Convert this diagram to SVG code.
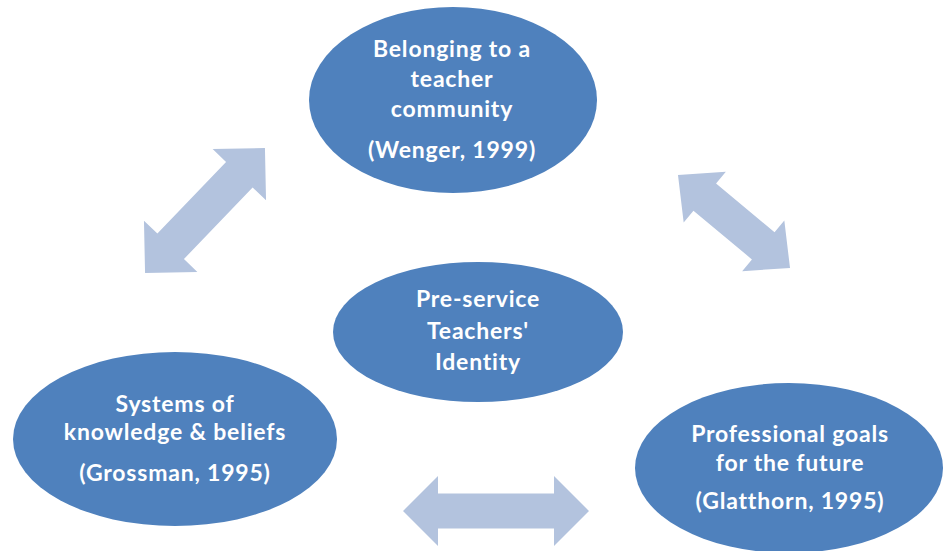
<svg xmlns="http://www.w3.org/2000/svg" width="944" height="551" viewBox="0 0 944 551">
<style>
.node{fill:#4F81BD;}
.lbl{fill:#FFFFFF;font-family:Lato,"Liberation Sans",sans-serif;font-weight:bold;font-size:23px;letter-spacing:0.8px;text-anchor:middle;}
.arr{fill:#B3C3DE;}
</style>
<rect width="944" height="551" fill="#FFFFFF"/>
<g id="connectors">
<path class="arr" transform="translate(205,210.5) rotate(-46.2)" d="M-86.6,0 L-49.6,-37 L-49.6,-18.4 L49.6,-18.4 L49.6,-37 L86.6,0 L49.6,37 L49.6,18.4 L-49.6,18.4 L-49.6,37 Z"/>
<path class="arr" transform="translate(734,221.5) rotate(39.7)" d="M-72.8,0 L-38,-33 L-38,-17.7 L38,-17.7 L38,-33 L72.8,0 L38,33 L38,17.7 L-38,17.7 L-38,33 Z"/>
<path class="arr" transform="translate(496,511)" d="M-93,0 L-58,-35 L-58,-17.5 L58,-17.5 L58,-35 L93,0 L58,35 L58,17.5 L-58,17.5 L-58,35 Z"/>
</g>
<g id="node-community">
<ellipse class="node" cx="453" cy="100" rx="144" ry="93"/>
<text class="lbl" x="452" y="57">Belonging to a</text>
<text class="lbl" x="452" y="87">teacher</text>
<text class="lbl" x="452" y="117">community</text>
<text class="lbl" x="452" y="158">(Wenger, 1999)</text>
</g>
<g id="node-identity">
<ellipse class="node" cx="478" cy="332" rx="145" ry="70"/>
<text class="lbl" x="478" y="307">Pre-service</text>
<text class="lbl" x="478" y="339">Teachers'</text>
<text class="lbl" x="478" y="370">Identity</text>
</g>
<g id="node-knowledge">
<ellipse class="node" cx="175" cy="439" rx="162" ry="87"/>
<text class="lbl" x="175" y="412">Systems of</text>
<text class="lbl" x="175" y="440">knowledge &amp; beliefs</text>
<text class="lbl" x="175" y="481">(Grossman, 1995)</text>
</g>
<g id="node-goals">
<ellipse class="node" cx="789" cy="468" rx="154" ry="85"/>
<text class="lbl" x="790" y="442">Professional goals</text>
<text class="lbl" x="790" y="471">for the future</text>
<text class="lbl" x="790" y="509">(Glatthorn, 1995)</text>
</g>
</svg>
